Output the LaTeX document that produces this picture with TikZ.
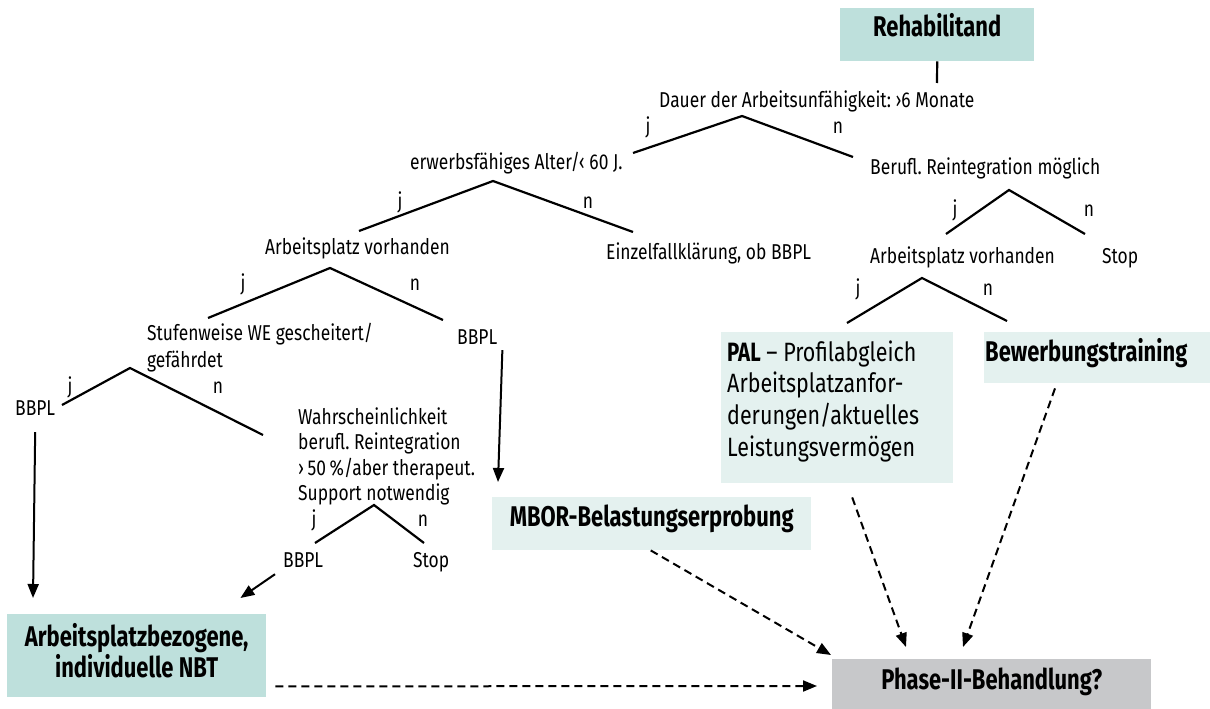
\documentclass[tikz,border=0pt]{standalone}
\usepackage{fontspec}
\setmainfont{Fira Sans}[FakeStretch=0.81]
\newfontfamily\bcond{Fira Sans}[FakeStretch=0.77]
\usetikzlibrary{arrows.meta}
\definecolor{tealA}{HTML}{BEE0DC}
\definecolor{tealB}{HTML}{E4F1EF}
\definecolor{greyP}{HTML}{C7C8CA}
\newcommand{\smallfnt}{\fontsize{21.5}{24}\selectfont}
\newcommand{\boldfnt}{\bcond\bfseries\fontsize{28.5}{30}\selectfont}
\frenchspacing
\begin{document}
\begin{tikzpicture}[x=1pt,y=-1pt,
  txt/.style={anchor=base west, inner sep=0pt, font=\smallfnt},
  yn/.style={anchor=base, inner sep=0pt, font=\smallfnt},
  br/.style={line width=2.2pt},
  boxA/.style={fill=tealA, anchor=north west, inner sep=0pt, font=\boldfnt},
  boxB/.style={fill=tealB, anchor=north west, inner sep=0pt, font=\boldfnt},
  boxG/.style={fill=greyP, anchor=north west, inner sep=0pt, font=\boldfnt},
  arr/.style={line width=2pt, -{Triangle[length=14pt,width=11pt]}},
  darr/.style={line width=2pt, dash pattern=on 8pt off 5pt, -{Triangle[length=14pt,width=11pt]}}
]
\useasboundingbox (0,0) rectangle (1210,709);

% boxes
\node[boxA, minimum width=194pt, text height=28pt, text depth=25pt] (rehab) at (840,8) {Rehabilitand};
\node[boxA, minimum width=259pt, text height=32pt, text depth=51pt, font=\bcond\bfseries\fontsize{28.5}{28}\selectfont] (nbt) at (7,614)
  {\begin{tabular}[t]{@{}c@{}}Arbeitsplatzbezogene,\\individuelle NBT\end{tabular}};
\node[boxB, minimum width=319pt, text height=29pt, text depth=24pt] (mbor) at (492,497) {MBOR-Belastungserprobung};
\node[boxB, inner xsep=6pt, text height=29pt, text depth=122pt, font=\fontsize{26.5}{31.7}\selectfont] (pal) at (721,332)
  {\makebox[220pt][l]{\begin{tabular}[t]{@{}l@{}}{\bcond\bfseries PAL} – Profilabgleich\\Arbeitsplatzanfor-\\derungen/aktuelles\\Leistungsvermögen\end{tabular}}};
\node[boxB, inner xsep=1pt, text height=29pt, text depth=22pt] (bew) at (984,332) {\makebox[224pt][l]{Bewerbungstraining}};
\node[boxG, minimum width=319pt, text height=30pt, text depth=20pt] (phase) at (832,659) {Phase-II-Behandlung?};

% decision texts
\node[txt] (dauer) at (659,107) {Dauer der Arbeitsunfähigkeit: ›6 Monate};
\node[txt] (erwerb) at (410,169) {erwerbsfähiges Alter/‹ 60 J.};
\node[txt] (berufl) at (870,174) {Berufl. Reintegration möglich};
\node[txt] (apv1) at (265,254) {Arbeitsplatz vorhanden};
\node[txt] (einzel) at (606,259) {Einzelfallklärung, ob BBPL};
\node[txt] (apv2) at (870,263) {Arbeitsplatz vorhanden};
\node[txt] (stop1) at (1102,263) {Stop};
\node[txt, font=\fontsize{21.5}{27}\selectfont] (stufen) at (147,340)
  {\begin{tabular}[t]{@{}l@{}}Stufenweise WE gescheitert/\\gefährdet\end{tabular}};
\node[txt] (bbpl1) at (457,344) {BBPL};
\node[txt] (bbpl2) at (15,415) {BBPL};
\node[txt, font=\fontsize{21.5}{25.6}\selectfont] (wahr) at (298,424)
  {\begin{tabular}[t]{@{}l@{}}Wahrscheinlichkeit\\berufl. Reintegration\\›\,50\,\%/aber therapeut.\\Support notwendig\end{tabular}};
\node[txt] (bbpl3) at (283,567) {BBPL};
\node[txt] (stop2) at (413,567) {Stop};

% j / n labels
\node[yn] (j1) at (648,133) {j};  \node[yn] (n1) at (838,133) {n};
\node[yn] (j2) at (400,208) {j};  \node[yn] (n2) at (588,208) {n};
\node[yn] (j3) at (955,216) {j};  \node[yn] (n3) at (1089,216) {n};
\node[yn] (j4) at (243,290) {j};  \node[yn] (n4) at (415,290) {n};
\node[yn] (j5) at (858,295) {j};  \node[yn] (n5) at (988,295) {n};
\node[yn] (j6) at (70,393) {j};   \node[yn] (n6) at (218,393) {n};
\node[yn] (j7) at (314,526) {j};  \node[yn] (n7) at (423,526) {n};

% branch vertices
\coordinate (t0) at (937,83);
\coordinate (a1) at (742,116); \coordinate (a1l) at (633,153); \coordinate (a1r) at (853,157);
\coordinate (a2) at (493,181); \coordinate (a2l) at (359,231); \coordinate (a2r) at (633,232);
\coordinate (a3) at (1009,190); \coordinate (a3l) at (946,234); \coordinate (a3r) at (1085,234);
\coordinate (a4) at (330,268); \coordinate (a4l) at (208,318); \coordinate (a4r) at (443,320);
\coordinate (a5) at (922,278); \coordinate (a5l) at (847,323); \coordinate (a5r) at (1007,321);
\coordinate (a6) at (130,368); \coordinate (a6l) at (62,405); \coordinate (a6r) at (263,435);
\coordinate (a7) at (374,505); \coordinate (a7l) at (315,543); \coordinate (a7r) at (424,543);

\draw[br] (rehab.south) -- (t0);
\draw[br] (a1l) -- (a1) -- (a1r);
\draw[br] (a2l) -- (a2) -- (a2r);
\draw[br] (a3l) -- (a3) -- (a3r);
\draw[br] (a4l) -- (a4) -- (a4r);
\draw[br] (a5l) -- (a5) -- (a5r);
\draw[br] (a6l) -- (a6) -- (a6r);
\draw[br] (a7l) -- (a7) -- (a7r);

% solid arrows
\draw[arr] ([xshift=5pt,yshift=-6pt]bbpl1.south east) -- ([xshift=6pt,yshift=15pt]mbor.north west);
\draw[arr] ([yshift=-17pt]bbpl2.south) -- ([xshift=26pt,yshift=16pt]nbt.north west);
\draw[arr] ([xshift=-8pt,yshift=-7pt]bbpl3.south west) -- ([xshift=-26pt,yshift=16pt]nbt.north east);

% dashed arrows
\draw[darr] ([xshift=9pt,yshift=11pt]nbt.south east) -- ([xshift=-15pt,yshift=-27pt]phase.north west);
\draw[darr] ([xshift=-1pt]mbor.south) -- ([xshift=-1pt,yshift=4pt]phase.north west);
\draw[darr] ([xshift=15pt,yshift=-14pt]pal.south) -- ([xshift=74pt,yshift=12pt]phase.north west);
\draw[darr] ([xshift=71pt,yshift=-5pt]bew.south west) -- ([xshift=131pt,yshift=12pt]phase.north west);
\end{tikzpicture}
\end{document}
